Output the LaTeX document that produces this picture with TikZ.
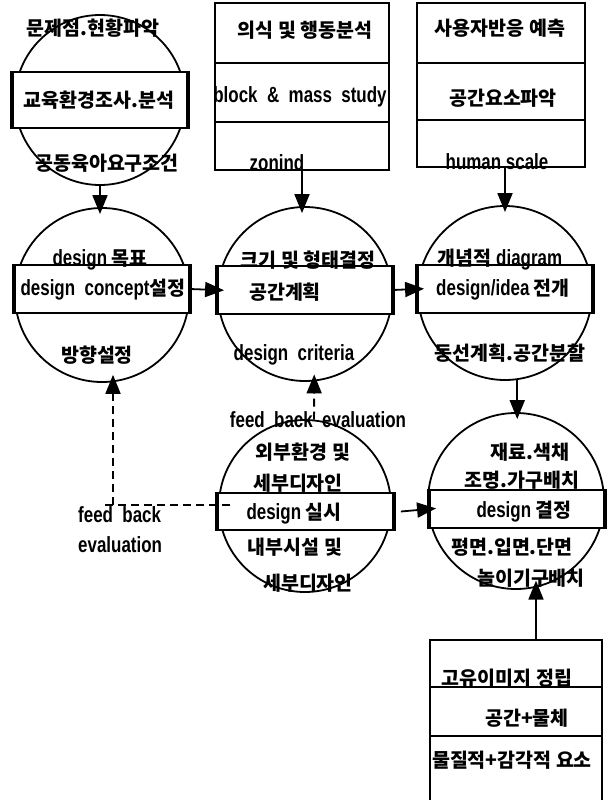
\documentclass[tikz,border=0pt]{standalone}
\usepackage{fontspec}
\setmainfont{Noto Sans CJK KR}
\newfontfamily\latf{Liberation Sans}[FakeStretch=0.77]
\newcommand\E[1]{{\latf\fontsize{22}{24}\selectfont #1}}
\usetikzlibrary{arrows.meta}
\begin{document}
\begin{tikzpicture}[x=1pt,y=-1pt,
  ring/.style={circle, draw, line width=1.8pt, inner sep=0pt},
  band/.style={rectangle, draw, fill=white, line width=1.8pt, inner sep=0pt},
  tbox/.style={rectangle, draw, line width=2pt, inner sep=0pt},
  lbl/.style={inner sep=0pt, font=\fontsize{19.5}{21}\selectfont\bfseries},
  tipa/.style={-{Triangle[length=19pt,width=15pt]}},
  arr/.style={line width=1.8pt, tipa, shorten >=-7pt},
  fb/.style={line width=1.8pt, dash pattern=on 8pt off 5pt},
  ]
\useasboundingbox (0,0) rectangle (608,800);

% ---------- circles ----------
\node[ring, minimum size=170pt] (c1) at (100,100) {};
\node[ring, minimum size=174pt] (c2) at (102,295) {};
\node[ring, minimum size=174pt] (c3) at (305,294) {};
\node[ring, minimum size=174pt] (c4) at (505,293) {};
\node[ring, minimum size=176pt] (c5) at (516,501) {};
\node[ring, minimum size=172pt] (c6) at (305,506) {};

% ---------- bands ----------
\node[band, minimum width=174pt, minimum height=56pt] (b1) at (100,100) {};
\node[band, minimum width=174pt, minimum height=48pt] (b2) at (102,289) {};
\node[band, minimum width=174pt, minimum height=48pt] (b3) at (305,290) {};
\node[band, minimum width=174pt, minimum height=48pt] (b4) at (505,289) {};
\node[band, minimum width=174pt, minimum height=38pt] (b5) at (517,509) {};
\node[band, minimum width=175pt, minimum height=37pt] (b6) at (305.5,511.5) {};
\foreach \b in {b1,b2,b3,b4,b5,b6}{
  \draw[line width=3.5pt] (\b.north west) -- (\b.south west);
  \draw[line width=3.5pt] (\b.north east) -- (\b.south east);
}

% ---------- boxes ----------
\node[tbox, minimum width=174pt, minimum height=167pt] (box2) at (302,86.5) {};
\draw[line width=2pt] (box2.west |- 0,63) -- (box2.east |- 0,63);
\draw[line width=2pt] (box2.west |- 0,122) -- (box2.east |- 0,122);

\node[tbox, minimum width=168pt, minimum height=164pt] (box3) at (501,85) {};
\draw[line width=2pt] (box3.west |- 0,63) -- (box3.east |- 0,63);
\draw[line width=2pt] (box3.west |- 0,120) -- (box3.east |- 0,120);

\node[inner sep=0pt, minimum width=172pt, minimum height=164pt] (box7) at (516,722) {};
\draw[line width=2pt] (box7.south west) -- (box7.north west) -- (box7.north east) -- (box7.south east);
\draw[line width=2pt] (box7.west |- 0,687) -- (box7.east |- 0,687);
\draw[line width=2pt] (box7.west |- 0,736) -- (box7.east |- 0,736);

% ---------- texts ----------
\node[lbl] (t1a) at (93,28) {문제점.현황파악};
\node[lbl] (t1b) at (99,100) {교육환경조사.분석};
\node[lbl] (t1c) at (107,163) {공동육아요구조건};

\node[lbl] (t2a) at (100,260) {\E{design} 목표};
\node[lbl] (t2b) at (103,290) {\E{design\ \ concept}설정};
\node[lbl] (t2c) at (97,355) {방향설정};

\node[lbl] (t3a) at (308,260) {크기 및 형태결정};
\node[lbl] (t3b) at (285,292) {공간계획};
\node[lbl] (t3c) at (294,355) {\E{design\ \ criteria}};

\node[lbl] (t4a) at (500,260) {개념적 \E{diagram}};
\node[lbl] (t4b) at (503,290) {\E{design/idea} 전개};
\node[lbl] (t4c) at (510,353) {동선계획.공간분할};

\node[lbl] (t5a) at (530,452) {재료.색채};
\node[lbl] (t5b) at (522,480) {조명.가구배치};
\node[lbl] (t5c) at (524,512) {\E{design} 결정};
\node[lbl] (t5d) at (512,547) {평면.입면.단면};
\node[lbl] (t5e) at (531,578) {놀이기구배치};

\node[lbl] (t6a) at (303,452) {외부환경 및};
\node[lbl] (t6b) at (298,483) {세부디자인};
\node[lbl] (t6c) at (294,514) {\E{design} 실시};
\node[lbl] (t6d) at (295,547) {내부시설 및};
\node[lbl] (t6e) at (308,583) {세부디자인};

\node[lbl] (tb2a) at (305,30) {의식 및 행동분석};
\node[lbl] (tb2b) at (300,97) {\E{block\ \ \&\ \ mass\ \ study}};
\node[lbl] (tb2c) at (277,163) {\E{zonind}};

\node[lbl] (tb3a) at (500,28) {사용자반응 예측};
\node[lbl] (tb3b) at (503,98) {공간요소파악};
\node[lbl] (tb3c) at (497,162) {\E{human scale}};

\node[lbl] (tb7a) at (507,678) {고유이미지 정립};
\node[lbl] (tb7b) at (527,718) {공간+물체};
\node[lbl] (tb7c) at (512,760) {물질적+감각적 요소};

\node[lbl] (fb1) at (318,420) {\E{feed\ \ back\ \ evaluation}};
\node[lbl, anchor=west] (fb2) at (78,515) {\E{feed\ \ back}};
\node[lbl, anchor=west] (fb3) at (78,545) {\E{evaluation}};

% ---------- connectors ----------
\draw[arr] (c1.south) -- (c1.south |- c2.north);
\draw[arr] (box2.south) -- (box2.south |- c3.north);
\draw[arr] (c4.north |- box3.south) -- (c4.north);
\draw[arr] (b2.east) -- (b3.west);
\draw[arr] (b3.east) -- (b4.west);
\draw[arr] (c4.-82) -- (c4.-82 |- c5.north);
\draw[arr] ([xshift=7pt]b6.east) -- (b5.west);
\draw[arr] (c5.-77 |- box7.north) -- (c5.-77);

\draw[fb, tipa, shorten >=-7pt] (c6.84) -- (c3.-84);
\coordinate (fbs) at (230,505);
\coordinate (fbe) at (103,505);
\coordinate (fbk) at (113,505);
\draw[fb] (fbs) -- (fbe);
\draw[fb, tipa, shorten >=-7pt] (fbk) -- (fbk |- c2.-81);
\end{tikzpicture}
\end{document}
